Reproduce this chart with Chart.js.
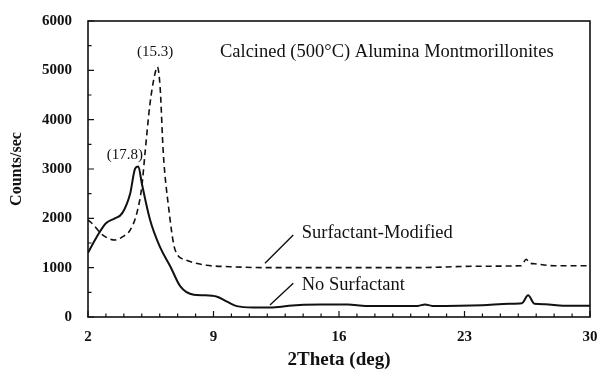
<!DOCTYPE html>
<html>
<head>
<meta charset="utf-8">
<script src="https://cdn.jsdelivr.net/npm/chart.js@4.4.1/dist/chart.umd.min.js"></script>
<style>
  html, body { margin: 0; padding: 0; background: #fff; }
  #wrap { width: 600px; height: 372px; }
</style>
</head>
<body>
<div id="wrap"><canvas id="xrdChart"></canvas></div>
<script>
// tick labels
var xTickLabels = [2, 9, 16, 23, 30];
var yTickLabels = [0, 1000, 2000, 3000, 4000, 5000, 6000];

// No Surfactant (solid)
var plainTheta = [2, 2.5, 3.0, 3.5, 3.9, 4.35, 4.63, 4.81, 5.0, 5.46, 6.0, 6.6, 7.15, 7.9, 8.45, 9.2, 9.75, 10.3, 11.2, 12.2, 12.8, 13.2, 15, 16.5, 17.5, 20.4, 20.8, 21.2, 24, 25.5, 26.2, 26.55, 26.9, 27.5, 28.5, 30];
var plainCounts = [1300, 1630, 1900, 2000, 2100, 2500, 3010, 3050, 2710, 1970, 1430, 1020, 620, 450, 440, 410, 310, 220, 195, 195, 210, 230, 255, 255, 225, 225, 255, 225, 240, 270, 280, 440, 270, 260, 230, 230];

// Surfactant-Modified (dashed)
var modTheta = [2, 2.3, 2.7, 3.1, 3.5, 3.9, 4.35, 4.72, 5.0, 5.18, 5.46, 5.74, 5.87, 6.02, 6.2, 6.49, 6.86, 7.5, 8.6, 9.9, 12, 16, 20, 24, 26.15, 26.45, 26.6, 26.9, 28, 30];
var modCounts = [1970, 1870, 1700, 1600, 1560, 1620, 1760, 2100, 2640, 3320, 4330, 4940, 5070, 4670, 3320, 2240, 1360, 1150, 1050, 1020, 1000, 1000, 1000, 1030, 1040, 1170, 1100, 1080, 1040, 1040];

// text labels placed in data coordinates
var noteText = ['Calcined (500\u00B0C) Alumina Montmorillonites', '(15.3)', '(17.8)', 'Surfactant-Modified', 'No Surfactant'];
var noteX = [9.36, 5.74, 4.06, 13.92, 13.92];
var noteY = [5378, 5378, 3284, 1697, 650];

// leader lines from labels to curves
var leaderX1 = [11.87, 12.15];
var leaderY1 = [1088, 243];
var leaderX2 = [13.45, 13.45];
var leaderY2 = [1662, 683];

function toPoints(xs, ys) {
  return xs.map(function (x, i) { return { x: x, y: ys[i] }; });
}

var serif = '"Liberation Serif", "Times New Roman", serif';

var framePlugin = {
  id: 'frame',
  afterDatasetsDraw: function (chart) {
    var ctx = chart.ctx;
    var area = chart.chartArea;
    var xs = chart.scales.x;
    var ys = chart.scales.y;
    ctx.save();
    ctx.strokeStyle = '#111';
    ctx.lineWidth = 1.6;
    ctx.strokeRect(area.left, area.top, area.right - area.left, area.bottom - area.top);

    // inward ticks
    ctx.lineWidth = 1.2;
    ctx.beginPath();
    for (var v = xs.min; v <= xs.max; v += 1) {
      var px = xs.getPixelForValue(v);
      var len = xTickLabels.indexOf(v) >= 0 ? 6 : 3.5;
      ctx.moveTo(px, area.bottom);
      ctx.lineTo(px, area.bottom - len);
    }
    for (var w = ys.min; w <= ys.max; w += 500) {
      var py = ys.getPixelForValue(w);
      var len2 = w % 1000 === 0 ? 6 : 3.5;
      ctx.moveTo(area.left, py);
      ctx.lineTo(area.left + len2, py);
    }
    ctx.stroke();

    // leader lines
    ctx.lineWidth = 1.4;
    ctx.beginPath();
    for (var k = 0; k < leaderX1.length; k++) {
      ctx.moveTo(xs.getPixelForValue(leaderX1[k]), ys.getPixelForValue(leaderY1[k]));
      ctx.lineTo(xs.getPixelForValue(leaderX2[k]), ys.getPixelForValue(leaderY2[k]));
    }
    ctx.stroke();

    // annotations
    ctx.fillStyle = '#111';
    ctx.textBaseline = 'middle';
    for (var i = 0; i < noteText.length; i++) {
      var small = noteText[i].charAt(0) === '(';
      ctx.font = (small ? '15px ' : '18.5px ') + serif;
      ctx.textAlign = small ? 'center' : 'left';
      ctx.fillText(noteText[i], xs.getPixelForValue(noteX[i]), ys.getPixelForValue(noteY[i]));
    }
    ctx.restore();
  }
};

var ctx = document.getElementById('xrdChart');
var xrdChart = new Chart(ctx, {
  type: 'line',
  data: {
    datasets: [{
      label: 'No Surfactant',
      data: toPoints(plainTheta, plainCounts),
      borderColor: '#111',
      borderWidth: 2,
      pointRadius: 0,
      cubicInterpolationMode: 'monotone',
      fill: false
    }, {
      label: 'Surfactant-Modified',
      data: toPoints(modTheta, modCounts),
      borderColor: '#111',
      borderWidth: 1.6,
      borderDash: [6, 4],
      pointRadius: 0,
      cubicInterpolationMode: 'monotone',
      fill: false
    }]
  },
  options: {
    responsive: true,
    maintainAspectRatio: false,
    animation: false,
    layout: { padding: { top: 21, right: 10, left: 0, bottom: 0 } },
    plugins: {
      legend: { display: false },
      tooltip: { enabled: false }
    },
    scales: {
      x: {
        type: 'linear',
        min: 2,
        max: 30,
        afterBuildTicks: function (scale) {
          scale.ticks = xTickLabels.map(function (v) { return { value: v }; });
        },
        afterFit: function (scale) {
          scale.height = 55;
          scale.paddingLeft = 0;
          scale.paddingRight = 0;
        },
        grid: { display: false, drawTicks: false },
        border: { display: false },
        ticks: {
          padding: 11,
          maxRotation: 0,
          color: '#111',
          font: { family: serif, size: 15, weight: 'bold' },
          callback: function (v) { return String(v); }
        },
        title: {
          display: true,
          text: '2Theta (deg)',
          color: '#111',
          padding: { top: 0, bottom: 1 },
          font: { family: serif, size: 19, weight: 'bold' }
        }
      },
      y: {
        min: 0,
        max: 6000,
        afterBuildTicks: function (scale) {
          scale.ticks = yTickLabels.map(function (v) { return { value: v }; });
        },
        afterFit: function (scale) {
          scale.width = 88;
          scale.paddingTop = 0;
          scale.paddingBottom = 0;
        },
        grid: { display: false, drawTicks: false },
        border: { display: false },
        ticks: {
          padding: 16,
          color: '#111',
          font: { family: serif, size: 15, weight: 'bold' },
          callback: function (v) { return String(v); }
        },
        title: {
          display: true,
          text: 'Counts/sec',
          color: '#111',
          padding: { top: 7, bottom: 0 },
          font: { family: serif, size: 16, weight: 'bold' }
        }
      }
    }
  },
  plugins: [framePlugin]
});
</script>
</body>
</html>
